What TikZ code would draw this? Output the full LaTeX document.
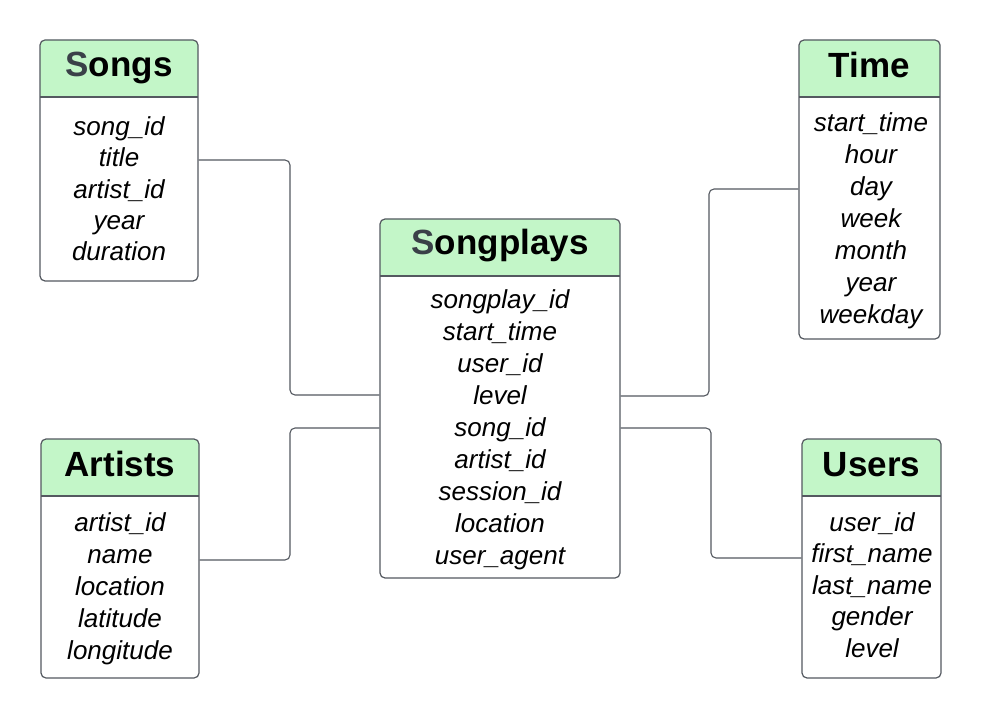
\documentclass[tikz,border=0pt]{standalone}
\usepackage{fontspec}
\setmainfont{Liberation Sans}
\definecolor{hdr}{RGB}{195,246,200}
\definecolor{edge}{RGB}{84,89,96}
\definecolor{sgray}{RGB}{58,64,72}
\tikzset{
  boxfill/.style={fill=white, rounded corners=5pt},
  boxline/.style={draw=edge, line width=1.2pt, rounded corners=5pt, fill=none, inner sep=0pt, rectangle},
  hdrfill/.style={fill=hdr},
  sep/.style={draw=edge, line width=1.2pt},
  ttl/.style={font=\fontsize{35}{40}\selectfont\bfseries, inner sep=0pt},
  rows/.style={font=\fontsize{26}{32}\selectfont\itshape, align=center, inner sep=0pt},
  conn/.style={draw=edge, line width=1.1pt, rounded corners=5pt}
}
\newcommand\mytable[6]{% name, x1, y1, x2, y2, hb
  \fill[boxfill] (#2,#3) rectangle (#4,#5);
  \fill[hdrfill, rounded corners=5pt] (#2,#3) rectangle (#4,#6);
  \fill[hdrfill] (#2,#6-8) rectangle (#4,#6);
  \draw[sep] (#2,#6) -- (#4,#6);
  \node[boxline, minimum width={(#4-#2)*1pt}, minimum height={(#5-#3)*1pt}] (#1) at ({(#2+#4)/2},{(#3+#5)/2}) {};
}
\begin{document}
\begin{tikzpicture}[x=1pt,y=-1pt]
\useasboundingbox[fill=white] (0,0) rectangle (984,719);
% tables
\mytable{songs}{40}{40}{198}{281}{97}
\mytable{songplays}{380}{219}{620}{578}{276}
\mytable{time}{799}{40}{940}{339}{97}
\mytable{artists}{41}{439}{199}{678}{496}
\mytable{users}{802}{439}{941}{678}{496}
% titles
\node[ttl] (songsT) at (119,68) {\textcolor{sgray}{S}ongs};
\node[ttl] (songplaysT) at (500,246) {\textcolor{sgray}{S}ongplays};
\node[ttl] (timeT) at (869.5,65) {Time};
\node[ttl] (artistsT) at (120,464) {Artists};
\node[ttl] (usersT) at (871.5,465) {Users};
% rows
\node[rows, font=\fontsize{26}{31.3}\selectfont\itshape] (songsR) at (119,189) {song\_id\\title\\artist\_id\\year\\duration};
\node[rows] (songplaysR) at (500,430) {songplay\_id\\start\_time\\user\_id\\level\\song\_id\\artist\_id\\session\_id\\location\\user\_agent};
\node[rows] (timeR) at (871,221) {start\_time\\hour\\day\\week\\month\\year\\weekday};
\node[rows] (artistsR) at (120,589) {artist\_id\\name\\location\\latitude\\longitude};
\node[rows, font=\fontsize{26}{31.5}\selectfont\itshape] (usersR) at (872,585) {user\_id\\first\_name\\last\_name\\gender\\level};
% connectors
\draw[conn] (songs.east |- 0,160) -- (290,160) -- (290,395) -- (songplays.west |- 0,395);
\draw[conn] (artists.east |- 0,560) -- (290,560) -- (290,428) -- (songplays.west |- 0,428);
\draw[conn] (songplays.east |- 0,396) -- (709,396) -- (709,189) -- (time.west |- 0,189);
\draw[conn] (songplays.east |- 0,428) -- (711,428) -- (711,558) -- (users.west |- 0,558);
\end{tikzpicture}
\end{document}
